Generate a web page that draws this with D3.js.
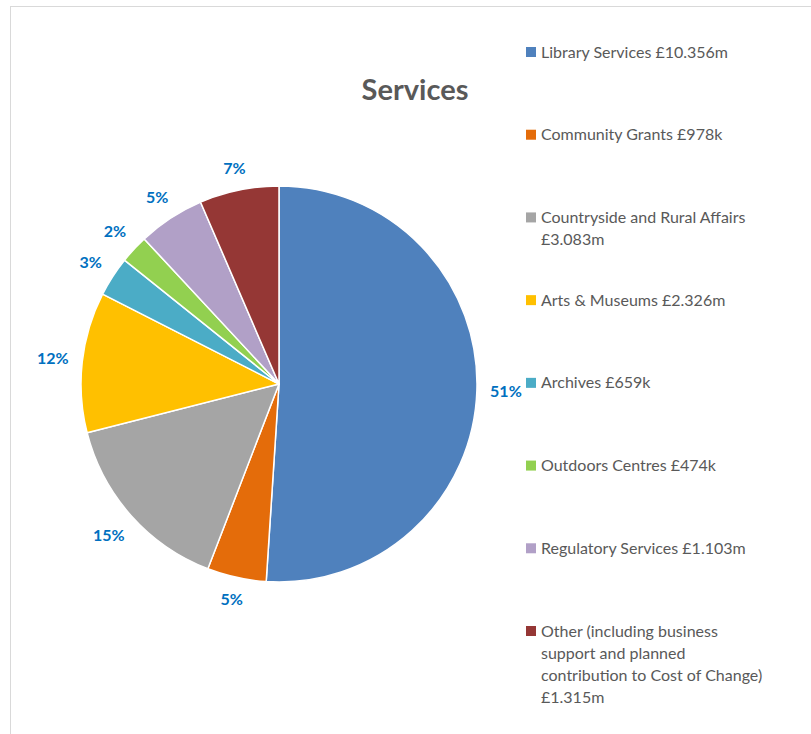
<!DOCTYPE html>
<html><head><meta charset="utf-8">
<script src="https://cdn.jsdelivr.net/npm/d3@7"></script>
<style>body{margin:0;background:#fff}svg{display:block}</style>
</head><body>
<script>
const categories = ["Library Services £10.356m","Community Grants £978k","Countryside and Rural Affairs £3.083m","Arts & Museums £2.326m","Archives £659k","Outdoors Centres £474k","Regulatory Services £1.103m","Other (including business support and planned contribution to Cost of Change) £1.315m"];
const legendLines = [["Library Services £10.356m"],["Community Grants £978k"],["Countryside and Rural Affairs","£3.083m"],["Arts & Museums £2.326m"],["Archives £659k"],["Outdoors Centres £474k"],["Regulatory Services £1.103m"],["Other (including business","support and planned","contribution to Cost of Change)","£1.315m"]];
const values = [10.356, 0.978, 3.083, 2.326, 0.659, 0.474, 1.103, 1.315];
const pctLabels = ["51%","5%","15%","12%","3%","2%","5%","7%"];
const colors = ["#4F81BD","#E46C0A","#A5A5A5","#FFC000","#4BACC6","#92D050","#B1A0C7","#953735"];

const W = 811, H = 734;
const svg = d3.select("body").append("svg").attr("width", W).attr("height", H);
const font = "Lato, 'Open Sans', sans-serif";

svg.append("rect").attr("x",10.5).attr("y",6.5).attr("width",W).attr("height",H)
  .attr("fill","none").attr("stroke","#d9d9d9").attr("stroke-width",1);

svg.append("text").attr("x",415).attr("y",100).attr("text-anchor","middle")
  .attr("font-family",font).attr("font-weight","bold").attr("font-size",29)
  .attr("fill","#595959").text("Services");

const cx = 279, cy = 384, r = 198;
const pie = d3.pie().sort(null).value(d => d)(values);
const arc = d3.arc().innerRadius(0).outerRadius(r);
const g = svg.append("g").attr("transform",`translate(${cx},${cy})`);
g.selectAll("path").data(pie).join("path")
  .attr("d", arc).attr("fill",(d,i)=>colors[i])
  .attr("stroke","#fff").attr("stroke-width",1.5).attr("stroke-linejoin","round");

const lbls = g.selectAll("text.lbl").data(pie).join("text").attr("class","lbl")
  .attr("dy","0.35em").attr("text-anchor","middle")
  .attr("font-family",font).attr("font-weight","bold").attr("font-size",16)
  .attr("fill","#0070C0").text((d,i)=>pctLabels[i]);
lbls.each(function(d){
  const a = (d.startAngle+d.endAngle)/2;
  const w = this.getComputedTextLength(), h = 14;
  const rr = r + 13 + (w/2)*Math.abs(Math.sin(a)) + (h/2)*Math.abs(Math.cos(a));
  d3.select(this).attr("x", rr*Math.sin(a)).attr("y", -rr*Math.cos(a));
});

const legY = d3.scalePoint().domain(d3.range(categories.length)).range([52, 631]);
const leg = svg.append("g");
categories.forEach((c,i)=>{
  const y = legY(i);
  leg.append("rect").attr("x",526).attr("y",y-5).attr("width",10).attr("height",10).attr("fill",colors[i]);
  const t = leg.append("text").attr("x",541).attr("y",y)
    .attr("font-family",font).attr("font-size",16).attr("fill","#595959");
  legendLines[i].forEach((ln,j)=>{
    t.append("tspan").attr("x",541).attr("dy", j===0 ? "0.35em" : 22).text(ln);
  });
});
</script>
</body></html>
